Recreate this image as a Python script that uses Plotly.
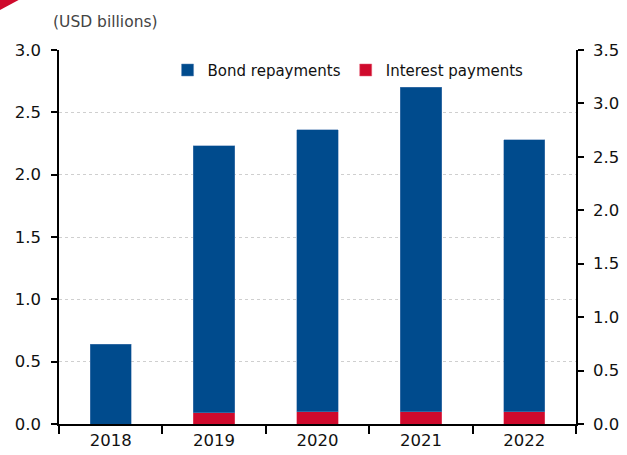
import plotly.graph_objects as go

years = ["2018", "2019", "2020", "2021", "2022"]
interest = [0.0, 0.09, 0.10, 0.10, 0.10]
bond = [0.64, 2.14, 2.26, 2.60, 2.18]

BLUE = "#004b8d"
RED = "#cf0a2c"
FONT = "DejaVu Sans"

fig = go.Figure()
fig.add_trace(go.Bar(x=years, y=interest, name="Interest payments",
                     marker=dict(color=RED, line=dict(width=0.5, color="#e8627a")),
                     width=0.4))
fig.add_trace(go.Bar(x=years, y=bond, name="Bond repayments",
                     marker=dict(color=BLUE, line=dict(width=0.5, color="#5b86b8")),
                     width=0.4))
fig.add_trace(go.Scatter(x=years, y=[None] * len(years), yaxis="y2",
                         showlegend=False, hoverinfo="skip"))

fig.update_layout(
    width=627, height=455,
    margin=dict(l=59, r=51, t=50, b=31),
    barmode="stack",
    plot_bgcolor="white", paper_bgcolor="white",
    font=dict(family=FONT, size=16.5, color="#111"),
    legend=dict(orientation="h", traceorder="reversed", x=0.21, y=0.99,
                xanchor="left", yanchor="top", bgcolor="rgba(0,0,0,0)",
                font=dict(size=15), itemwidth=30),
    xaxis=dict(showline=True, linecolor="black", linewidth=1.5,
               ticks="outside", tickson="boundaries", ticklen=8, tickwidth=1.5,
               tickcolor="black", showgrid=False, automargin=False),
    yaxis=dict(range=[0, 3.0], dtick=0.5, tickformat=".1f", showline=True,
               linecolor="black", linewidth=1.5, ticks="outside", ticklen=6,
               tickwidth=1.5, tickcolor="black", showgrid=True,
               gridcolor="#cfcfcf", griddash="dot", gridwidth=1,
               zeroline=False, ticklabelstandoff=7, automargin=False),
    yaxis2=dict(range=[0, 3.5], dtick=0.5, tickformat=".1f", overlaying="y",
                side="right", showline=True, linecolor="black", linewidth=1.5,
                ticks="outside", ticklen=6, tickwidth=1.5, tickcolor="black",
                showgrid=False, zeroline=False, ticklabelstandoff=6,
                automargin=False),
    annotations=[dict(text="(USD billions)", xref="paper", yref="paper",
                      x=-0.016, y=1.075, xanchor="left", yanchor="middle",
                      showarrow=False, font=dict(size=15.5, color="#444"))],
    shapes=[dict(type="path", xref="paper", yref="paper",
                 path="M -0.1142,1.1337 L -0.0781,1.1337 L -0.1142,1.1070 Z",
                 fillcolor=RED, line=dict(width=0))],
)

fig.write_html("out.html")
